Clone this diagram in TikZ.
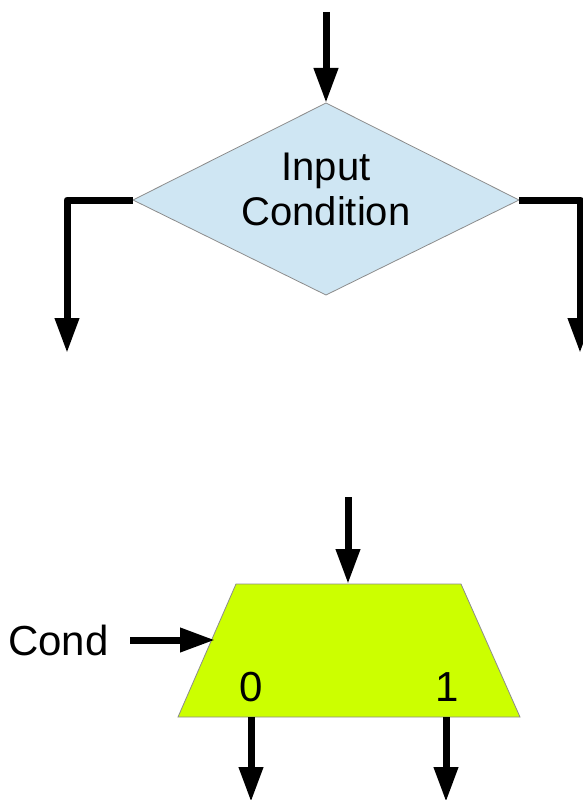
\documentclass[tikz,border=0pt]{standalone}
\usepackage{fontspec}
\setmainfont{Liberation Sans}
\usetikzlibrary{arrows.meta}
\definecolor{dblue}{RGB}{207,230,243}
\definecolor{mgreen}{RGB}{204,255,0}
\definecolor{edge}{RGB}{140,140,140}
\begin{document}
\begin{tikzpicture}[x=1pt,y=-1pt,
  flow/.style={line width=7pt,line join=round,-{Triangle[length=35pt,width=23pt]}},
  shapeline/.style={draw=edge,line width=0.8pt},
  lbl/.style={font=\fontsize{40}{45}\selectfont,inner sep=0pt,align=center},
  biglbl/.style={font=\fontsize{42}{45}\selectfont,inner sep=0pt,align=center}]
\useasboundingbox (0,0) rectangle (583,800);
% top flowchart
\coordinate (dT) at (326,103);
\coordinate (dB) at (326,295);
\coordinate (dL) at (133,200);
\coordinate (dR) at (519,200);
\filldraw[fill=dblue,shapeline] (dT) -- (dR) -- (dB) -- (dL) -- cycle;
\node[lbl] (dtext) at (326,189) {Input\\Condition};
\coordinate (inTop) at (326,12);
\coordinate (lEnd) at (67,353);
\coordinate (rEnd) at (580,353);
\draw[flow] (inTop) -- (dT);
\draw[flow] (dL) -| (lEnd);
\draw[flow] (dR) -| (rEnd);
% mux
\coordinate (mTL) at (236,584);
\coordinate (mTR) at (461,584);
\coordinate (mBR) at (520,717);
\coordinate (mBL) at (178,717);
\filldraw[fill=mgreen,shapeline] (mTL) -- (mTR) -- (mBR) -- (mBL) -- cycle;
\coordinate (mTop) at (348,584);
\coordinate (mIn) at (348,497);
\draw[flow] (mIn) -- (mTop);
\node[biglbl,anchor=west] (cond) at (8,640) {Cond};
\coordinate (cStart) at (130,640);
\coordinate (cEdge) at (215,640);
\draw[flow] (cStart) -- (cEdge);
\node[biglbl] (zero) at (251,687) {0};
\node[biglbl] (one) at (447,687) {1};
\coordinate (z0) at (251,717);
\coordinate (z1) at (251,802);
\coordinate (o0) at (446,717);
\coordinate (o1) at (446,802);
\draw[flow] (z0) -- (z1);
\draw[flow] (o0) -- (o1);
\end{tikzpicture}
\end{document}
